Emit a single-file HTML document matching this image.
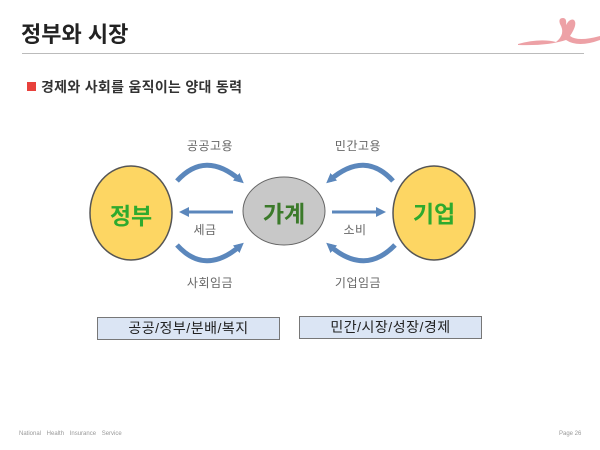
<!DOCTYPE html>
<html><head><meta charset="utf-8"><style>
body{margin:0;width:600px;height:450px;background:#fff;position:relative;overflow:hidden;font-family:"Liberation Sans","Noto Sans CJK KR",sans-serif}
.a{position:absolute;white-space:nowrap}
</style></head><body>
<div class="a" style="left:21px;top:17px;font-size:22px;font-weight:bold;color:#222">정부와 시장</div>
<div class="a" style="left:22px;top:53px;width:562px;height:1px;background:#bbb"></div>
<div class="a" style="left:27px;top:82px;width:9px;height:9px;background:#e8413c"></div>
<div class="a" style="left:41px;top:77px;font-size:14px;font-weight:bold;color:#333;letter-spacing:0.3px">경제와 사회를 움직이는 양대 동력</div>
<svg class="a" style="left:0;top:0" width="600" height="450">
<path d="M518 44 Q540 38 556 42 Q566 34 560 24 Q558 18 563 18 Q567 18 566 25 Q570 18 574 20 Q578 24 570 36 Q578 42 600 36 L600 40 Q578 48 566 40 Q548 46 518 45Z" fill="#e88a90" opacity="0.8"/>
<defs><marker id="m" markerUnits="userSpaceOnUse" markerWidth="10" markerHeight="10" refX="5" refY="5" orient="auto"><path d="M0,0L10,5L0,10Z" fill="#5b87bc"/></marker></defs>
<ellipse cx="131" cy="213" rx="41" ry="47" fill="#fdd663" stroke="#555" stroke-width="1.5"/>
<ellipse cx="284" cy="211" rx="41" ry="34" fill="#c8c8c8" stroke="#666" stroke-width="1"/>
<ellipse cx="434" cy="213" rx="41" ry="47" fill="#fdd663" stroke="#555" stroke-width="1.5"/>
<g stroke="#5b87bc" stroke-width="5" fill="none" marker-end="url(#m)">
<path d="M177 181 Q205 150 240 180"/>
<path d="M177 245 Q205 276 240 246"/>
<path d="M393 181 Q365 150 330 180"/>
<path d="M395 245 Q365 276 330 246"/>
<path d="M233 212 L184 212" stroke-width="3"/>
<path d="M332 212 L381 212" stroke-width="3"/>
</g>
</svg>
<div class="a" style="left:93px;top:197px;width:76px;text-align:center;font-size:23px;font-weight:bold;color:#2eaa2e">정부</div>
<div class="a" style="left:246px;top:195px;width:76px;text-align:center;font-size:23px;font-weight:bold;color:#3b7a2a">가계</div>
<div class="a" style="left:396px;top:195px;width:76px;text-align:center;font-size:23px;font-weight:bold;color:#2eaa2e">기업</div>
<div class="a" style="left:170px;top:137px;width:80px;text-align:center;font-size:12px;color:#666;letter-spacing:0.5px">공공고용</div>
<div class="a" style="left:318px;top:137px;width:80px;text-align:center;font-size:12px;color:#666;letter-spacing:0.5px">민간고용</div>
<div class="a" style="left:180px;top:221px;width:50px;text-align:center;font-size:12px;color:#666;letter-spacing:0.5px">세금</div>
<div class="a" style="left:330px;top:221px;width:50px;text-align:center;font-size:12px;color:#666;letter-spacing:0.5px">소비</div>
<div class="a" style="left:170px;top:274px;width:80px;text-align:center;font-size:12px;color:#666;letter-spacing:0.5px">사회임금</div>
<div class="a" style="left:318px;top:274px;width:80px;text-align:center;font-size:12px;color:#666;letter-spacing:0.5px">기업임금</div>
<div class="a" style="left:97px;top:317px;width:181px;height:21px;background:#dbe5f4;border:1px solid #777;text-align:center;font-size:14px;line-height:21px;color:#222;letter-spacing:0.5px">공공/정부/분배/복지</div>
<div class="a" style="left:299px;top:316px;width:181px;height:21px;background:#dbe5f4;border:1px solid #777;text-align:center;font-size:14px;line-height:21px;color:#222;letter-spacing:0.5px">민간/시장/성장/경제</div>
<div class="a" style="left:19px;top:431px;font-size:6px;color:#999;word-spacing:4px">National Health Insurance Service</div>
<div class="a" style="left:559px;top:431px;font-size:6px;color:#999">Page 26</div>
</body></html>
